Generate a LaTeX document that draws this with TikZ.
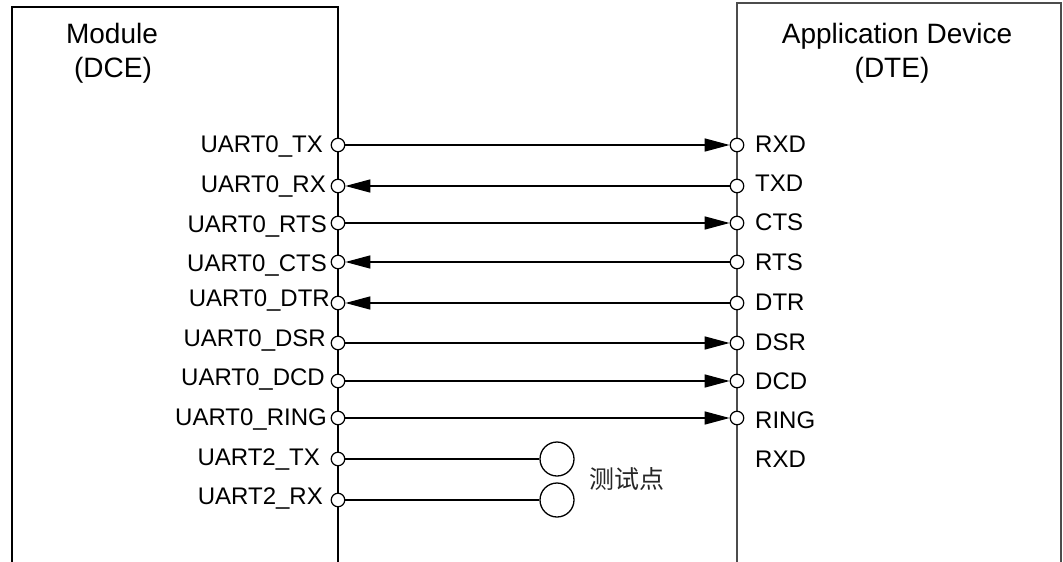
\documentclass[tikz,border=0pt]{standalone}
\usepackage{fontspec}
\setmainfont{Liberation Sans}
\newfontfamily\cjk{Noto Sans CJK SC}
\usetikzlibrary{arrows.meta,positioning}

\tikzset{
  port/.style={circle,draw,fill=white,line width=1.2pt,inner sep=0pt,minimum size=13.5pt},
  testpt/.style={circle,draw,line width=1.3pt,inner sep=0pt,minimum size=34pt},
  sig/.style={line width=1.4pt},
  tip/.style={-{Triangle[length=25pt,width=13pt]}},
  lname/.style={anchor=base east,inner sep=0pt,font=\fontsize{24}{28}\selectfont},
  rname/.style={anchor=base west,inner sep=0pt,font=\fontsize{24}{28}\selectfont},
  title/.style={anchor=base,inner sep=0pt,font=\fontsize{28}{32}\selectfont}
}

\begin{document}
\begin{tikzpicture}[x=1pt,y=-1pt]
       \useasboundingbox (0,0) rectangle (1063,562);

       % boxes (open at the bottom)
       \draw[line width=2pt] (12,562) -- (12,7) -- (338,7) -- (338,562);
       \draw[line width=1.4pt,black!70] (737,562) -- (737,3) -- (1061,3) -- (1061,562);

       \node[title] (mod) at (112,43) {Module};
       \node[title] (dce) at (113,77) {(DCE)};
       \node[title] (app) at (897,43) {Application Device};
       \node[title] (dte) at (892,77) {(DTE)};

       % module side pins
       \node[port] (LTX)   at (338,145) {};
       \node[port] (LRX)   at (338,186) {};
       \node[port] (LRTS)  at (338,223) {};
       \node[port] (LCTS)  at (338,262) {};
       \node[port] (LDTR)  at (338,303) {};
       \node[port] (LDSR)  at (338,343) {};
       \node[port] (LDCD)  at (338,381) {};
       \node[port] (LRING) at (338,418) {};
       \node[port] (LTX2)  at (338,459) {};
       \node[port] (LRX2)  at (338,500) {};

       \node[lname] (nTX)   at (323,152.5) {UART0\_TX};
       \node[lname] (nRX)   at (326,192.5) {UART0\_RX};
       \node[lname] (nRTS)  at (327,232.5) {UART0\_RTS};
       \node[lname] (nCTS)  at (327,271) {UART0\_CTS};
       \node[lname] (nDTR)  at (330,306.5) {UART0\_DTR};
       \node[lname] (nDSR)  at (326,346.5) {UART0\_DSR};
       \node[lname] (nDCD)  at (325,385.5) {UART0\_DCD};
       \node[lname] (nRING) at (327,425.5) {UART0\_RING};
       \node[lname] (nTX2)  at (320,465.5) {UART2\_TX};
       \node[lname] (nRX2)  at (323,504.5) {UART2\_RX};

       % device side pins
       \node[port] (RRXD)  at (737,145) {};
       \node[port] (RTXD)  at (737,186) {};
       \node[port] (RCTS)  at (737,223) {};
       \node[port] (RRTS)  at (737,262) {};
       \node[port] (RDTR)  at (737,303) {};
       \node[port] (RDSR)  at (737,343) {};
       \node[port] (RDCD)  at (737,381) {};
       \node[port] (RRING) at (737,418) {};

       \node[rname] (mRXD)  at (755,152.5) {RXD};
       \node[rname] (mTXD)  at (755,191.5) {TXD};
       \node[rname] (mCTS)  at (755,230.5) {CTS};
       \node[rname] (mRTS)  at (755,270.5) {RTS};
       \node[rname] (mDTR)  at (755,310.5) {DTR};
       \node[rname] (mDSR)  at (755,350.5) {DSR};
       \node[rname] (mDCD)  at (755,389.5) {DCD};
       \node[rname] (mRING) at (755,428.5) {RING};
       \node[rname] (mRXD2) at (755,467.5) {RXD};

       % test points
       \node[testpt] (TP1) at (557,459) {};
       \node[testpt] (TP2) at (557,500) {};
       \node[anchor=west,inner sep=0pt,font=\cjk\fontsize{25}{28}\selectfont,black!85] (tpname) at (589,479) {测试点};

       % signals
       \draw[sig,tip] (LTX) -- (RRXD);
       \draw[sig,tip] (RTXD) -- (LRX);
       \draw[sig,tip] (LRTS) -- (RCTS);
       \draw[sig,tip] (RRTS) -- (LCTS);
       \draw[sig,tip] (RDTR) -- (LDTR);
       \draw[sig,tip] (LDSR) -- (RDSR);
       \draw[sig,tip] (LDCD) -- (RDCD);
       \draw[sig,tip] (LRING) -- (RRING);
       \draw[sig] (LTX2) -- (TP1);
       \draw[sig] (LRX2) -- (TP2);
     \end{tikzpicture}
\end{document}
